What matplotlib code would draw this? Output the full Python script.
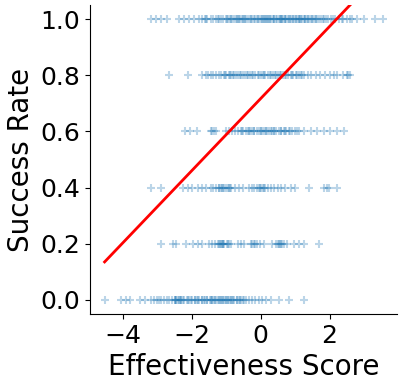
import numpy as np
import matplotlib.pyplot as plt

# effectiveness scores observed at each success-rate level
levels = [0.0, 0.2, 0.4, 0.6, 0.8, 1.0]

x_000 = [-4.53, -4.05, -3.9, -3.78, -3.49, -3.37, -3.18, -3.1, -3.02, -2.95, -2.88, -2.8,
         -2.72, -2.65, -2.58, -2.5, -2.45, -2.4, -2.35, -2.3, -2.22, -2.15, -2.08, -2.0,
         -1.92, -1.85, -1.78, -1.7, -1.62, -1.55, -1.48, -1.42, -1.36, -1.3, -1.24, -1.18,
         -1.12, -1.06, -1.0, -0.94, -0.88, -0.82, -0.76, -0.7, -0.64, -0.58, -0.5, -0.42,
         -0.35, -0.25, -0.15, -0.05, 0.05, 0.15, 0.29, 0.53, 0.82, 1.25, -2.45, -2.3,
         -1.9, -1.7, -1.4, -1.2, -1.0, -0.8, -0.6, -2.1, -1.55, -1.1, -2.48, -2.38,
         -2.02, -1.65, -1.45, -1.33, -1.15, -0.95, -0.85, -0.68, -0.48, -2.26, -1.82]
x_020 = [-2.89, -2.55, -2.46, -2.17, -1.97, -1.83, -1.69, -1.49, -1.4, -1.32, -1.25, -1.18,
         -1.12, -1.05, -0.98, -0.92, -0.87, -1.2, -1.1, -0.67, -0.58, -0.48, -0.29, -0.2,
         -0.12, -0.02, 0.1, 0.34, 0.45, 0.52, 0.6, 0.68, 0.77, 0.96, 1.1, 1.25, 1.69, 0.5,
         -0.15, -1.15, -1.08, -0.95, 0.55, 0.62, -0.25]
x_040 = [-3.18, -2.89, -2.26, -2.12, -1.98, -1.83, -1.7, -1.6, -1.45, -1.38, -1.3, -1.22,
         -1.15, -1.08, -1.0, -0.92, -0.85, -0.75, -0.62, -0.5, -0.35, -0.25, -0.18, -0.1,
         -0.02, 0.06, 0.14, 0.22, 0.3, 0.4, 0.5, 0.6, 0.7, 0.87, 1.01, 1.39, 1.83, 1.92,
         1.97, 2.22, -1.2, -1.05, -0.88, -0.05, -1.12, -0.95, 0.1, 0.0]
x_060 = [-2.2, -2.04, -1.85, -1.43, -1.36, -1.3, -1.0, -0.92, -0.84, -0.75, -0.66, -0.58,
         -0.5, -0.42, -0.36, -0.3, -0.24, -0.18, -0.12, -0.06, 0.0, 0.06, 0.12, 0.18, 0.25,
         0.32, 0.38, 0.45, 0.52, 0.6, 0.68, 0.75, 0.82, 0.9, 1.0, 1.1, 1.25, 1.45, 1.64,
         1.83, 2.02, 2.22, 2.41, -0.35, 0.0, 0.3, 0.6, 0.85, -1.4, -0.55, -0.2, 0.15, 0.4,
         0.7, 1.05]
x_080 = [-2.65, -2.12, -1.69, -1.6, -1.52, -1.45, -1.38, -1.3, -1.22, -1.15, -1.07, -1.0,
         -0.93, -0.86, -0.8, -0.72, -0.65, -0.58, -0.5, -0.44, -0.37, -0.3, -0.22, -0.15,
         -0.08, 0.0, 0.07, 0.14, 0.2, 0.28, 0.35, 0.42, 0.5, 0.57, 0.64, 0.72, 0.8, 0.88,
         0.95, 1.03, 1.1, 1.18, 1.26, 1.36, 1.45, 1.6, 1.73, 1.88, 2.02, 2.12, 2.22, 2.38,
         2.5, 2.6, -0.9, -0.6, -0.25, 0.1, 0.45, 0.75, 1.05, -1.04, -0.76, -0.4, -0.05,
         0.3, 0.6, 0.92, 1.2, 2.55]
x_100 = [-3.18, -3.03, -2.89, -2.72, -2.36, -2.22, -2.07, -1.93, -1.78, -1.7, -1.62, -1.55,
         -1.45, -1.38, -1.3, -1.22, -1.15, -1.08, -1.02, -0.95, -0.9, -0.85, -0.78, -0.72,
         -0.66, -0.6, -0.55, -0.48, -0.42, -0.36, -0.3, -0.25, -0.18, -0.12, -0.05, 0.0,
         0.06, 0.12, 0.18, 0.23, 0.28, 0.35, 0.4, 0.46, 0.52, 0.58, 0.63, 0.7, 0.75, 0.82,
         0.88, 0.93, 1.0, 1.05, 1.12, 1.18, 1.25, 1.3, 1.38, 1.45, 1.52, 1.6, 1.68, 1.75,
         1.85, 1.95, 2.05, 2.15, 2.28, 2.4, 2.52, 2.65, 2.79, 2.99, 3.32, 3.56,
         -0.98, -0.82, -0.64, -0.45, -0.28, -0.08, 0.1, 0.3, 0.48, 0.66, 0.85, 1.02, 1.2,
         1.4, 1.58, 1.8, 0.2, 0.55, 0.95, 1.35, -0.5, 0.05, 0.72, 1.15, -1.6, -1.25,
         -0.7, -0.15, 0.15, 0.38, 0.6, 0.8, 1.1, 1.28, 1.48, 1.65, 1.9, 2.1, 2.35, 2.6]

# fitted trend line
line_x = [-4.53, 3.56]
line_y = [0.135, 1.174]

groups = [x_000, x_020, x_040, x_060, x_080, x_100]

fig = plt.figure(figsize=(4.06, 3.87), dpi=100)
ax = fig.add_subplot(111)
fig.subplots_adjust(left=0.222, right=0.978, bottom=0.189, top=0.987)

for lvl, xs in zip(levels, groups):
    ax.scatter(xs, np.full(len(xs), lvl), marker='+', color='#1f77b4', alpha=0.3, s=36)

ax.plot(line_x, line_y, color='red', linewidth=2)

ax.set_xlim(-4.95, 3.96)
ax.set_ylim(-0.05, 1.05)
ax.set_xticks([-4, -2, 0, 2])
ax.set_yticks([0.0, 0.2, 0.4, 0.6, 0.8, 1.0])
ax.tick_params(labelsize=18)
ax.set_xlabel('Effectiveness Score', fontsize=20)
ax.set_ylabel('Success Rate', fontsize=20)
ax.spines['top'].set_visible(False)
ax.spines['right'].set_visible(False)

fig.savefig('out.png', dpi=100)
